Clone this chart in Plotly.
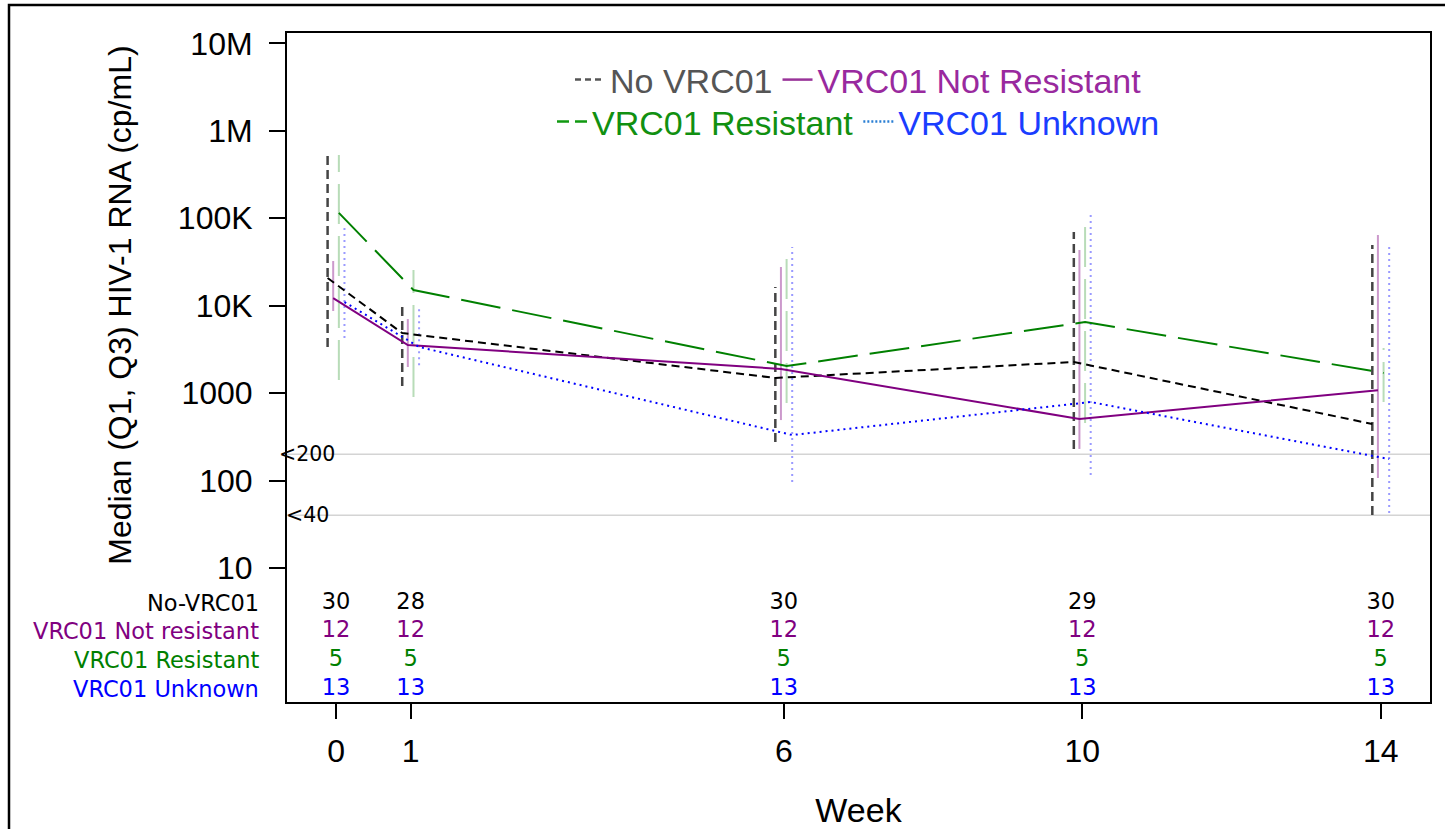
import math
import plotly.graph_objects as go

# ---------------- data ----------------
weeks = [0, 1, 6, 10, 14]

group_names = ["No VRC01", "VRC01 Not Resistant", "VRC01 Resistant", "VRC01 Unknown"]

med_no_vrc01 = [20700, 4860, 1490, 2270, 444]
q1_no_vrc01 = [3370, 1205, 276, 230, 40.4]
q3_no_vrc01 = [528000, 10200, 16300, 69500, 49400]

med_not_res = [12200, 3550, 1890, 506, 1080]
q1_not_res = [8690, 1990, 492, 230, 107]
q3_not_res = [32400, 7030, 27700, 43300, 64300]

med_res = [115000, 15100, 2040, 6500, 1700]
q1_res = [1410, 902, 771, 455, 791]
q3_res = [528000, 25600, 40000, 90000, 3280]

med_unknown = [11000, 3370, 332, 791, 176]
q1_unknown = [4270, 2090, 96, 116, 42.6]
q3_unknown = [85000, 9660, 46900, 121000, 49400]

n_no_vrc01 = [30, 28, 30, 29, 30]
n_not_res = [12, 12, 12, 12, 12]
n_res = [5, 5, 5, 5, 5]
n_unknown = [13, 13, 13, 13, 13]

row_labels = ["No-VRC01", "VRC01 Not resistant", "VRC01 Resistant", "VRC01 Unknown"]

ytick_vals = [10, 100, 1000, 10000, 100000, 1000000, 10000000]
ytick_text = ["10", "100", "1000", "10K", "100K", "1M", "10M"]

ref_vals = [200, 40]
ref_labels = ["<200", "<40"]

y_title = "Median (Q1, Q3) HIV-1 RNA (cp/mL)"
x_title = "Week"

# ---------------- layout constants / styles ----------------
W, H = 1445, 829
ML, MR, MT, MB = 287, 15, 33, 127
PW, PH = W - ML - MR, H - MT - MB
X_RANGE = [-0.657, 14.66]
Y_RANGE = [-0.532, 7.118]  # log10 units

offsets = [-0.113, -0.038, 0.038, 0.113]

med_style = [
    dict(color="#000000", width=2, dash="8px,5px"),
    dict(color="#800080", width=2, dash="solid"),
    dict(color="#008000", width=2, dash="40px,12px"),
    dict(color="#0000ff", width=2, dash="2px,4px"),
]
bar_style = [
    dict(color="#444444", width=2.5, dash="9px,5px"),
    dict(color="#cc99cc", width=2, dash="solid"),
    dict(color="#b8dcb8", width=2, dash="40px,12px"),
    dict(color="#9a9aff", width=2, dash="2px,4px"),
]
legend_line = [
    dict(color="#555555", width=2.5, dash="6px,4px"),
    dict(color="#993399", width=2.5, dash="solid"),
    dict(color="#119911", width=2.5, dash="12px,6px"),
    dict(color="#2a7fd4", width=2.5, dash="2px,2px"),
]
legend_text_color = ["#555555", "#99299e", "#119011", "#1a3dff"]
table_color = ["#000000", "#800080", "#008000", "#0000ff"]

SANS = "Liberation Sans, Arial, sans-serif"
DEJAVU = "DejaVu Sans, sans-serif"
TABLE_SIZE = 22.5

meds = [med_no_vrc01, med_not_res, med_res, med_unknown]
q1s = [q1_no_vrc01, q1_not_res, q1_res, q1_unknown]
q3s = [q3_no_vrc01, q3_not_res, q3_res, q3_unknown]
counts = [n_no_vrc01, n_not_res, n_res, n_unknown]

fig = go.Figure()

# reference lines (<200, <40)
for v in ref_vals:
    fig.add_trace(go.Scatter(
        x=X_RANGE, y=[v, v], mode="lines",
        line=dict(color="#d4d4d4", width=1.5),
        showlegend=False, hoverinfo="skip"))

# Q1-Q3 bars
for g in range(4):
    xs, ys = [], []
    for w, lo, hi in zip(weeks, q1s[g], q3s[g]):
        xs += [w + offsets[g], w + offsets[g], None]
        ys += [lo, hi, None]
    fig.add_trace(go.Scatter(
        x=xs, y=ys, mode="lines", line=bar_style[g],
        showlegend=False, hoverinfo="skip"))

# median lines
for g in range(4):
    fig.add_trace(go.Scatter(
        x=[w + offsets[g] for w in weeks], y=meds[g], mode="lines",
        line=med_style[g], name=group_names[g], showlegend=False))

# legend entries
for g in range(4):
    fig.add_trace(go.Scatter(
        x=[None], y=[None], mode="lines", line=legend_line[g],
        name="<span style='color:%s'>%s</span>" % (legend_text_color[g], group_names[g]),
        legend="legend" if g < 2 else "legend2", showlegend=True))

# counts table (rows inside plot area, below the 10 tick)
row_px = [603, 631, 660, 689]
row_log = [1 - (p - 568) / 87.45 for p in row_px]
for g in range(4):
    fig.add_trace(go.Scatter(
        x=weeks, y=[10 ** row_log[g]] * len(weeks), mode="text",
        text=[str(n) for n in counts[g]],
        textfont=dict(family=DEJAVU, size=TABLE_SIZE, color=table_color[g]),
        textposition="middle center", cliponaxis=False,
        showlegend=False, hoverinfo="skip"))

annotations = []
for g in range(4):
    annotations.append(dict(
        x=(261 - ML) / PW, y=row_log[g], xref="paper", yref="y", text=row_labels[g],
        showarrow=False, xanchor="right", yanchor="middle",
        font=dict(family=DEJAVU, size=TABLE_SIZE, color=table_color[g])))
for v, lab in zip(ref_vals, ref_labels):
    annotations.append(dict(
        x=-0.389, y=math.log10(v), xref="x", yref="y", text=lab,
        showarrow=False, xanchor="center", yanchor="middle",
        font=dict(family=DEJAVU, size=20.5, color="#000000")))
# y-axis title, centred on the labelled decades (10 .. 10M)
annotations.append(dict(
    x=(120 - ML) / PW, y=(math.log10(ytick_vals[0]) + math.log10(ytick_vals[-1])) / 2,
    xref="paper", yref="y", text=y_title, textangle=-90,
    showarrow=False, xanchor="center", yanchor="middle",
    font=dict(family=SANS, size=32, color="#000000")))

shapes = [dict(
    type="rect", xref="paper", yref="paper",
    x0=(9 - ML) / PW, x1=(1460 - ML) / PW,
    y0=-(845 - (MT + PH)) / PH, y1=1 + (MT - 5) / PH,
    line=dict(color="#000000", width=2.5), fillcolor="rgba(0,0,0,0)", layer="above")]

fig.update_layout(
    width=W, height=H,
    margin=dict(l=ML, r=MR, t=MT, b=MB, pad=0),
    paper_bgcolor="white", plot_bgcolor="white",
    font=dict(family=SANS, color="#000000"),
    annotations=annotations, shapes=shapes,
    legend=dict(orientation="h", x=0.5, xanchor="center",
                y=1 - (80 - MT) / PH, yanchor="middle",
                bgcolor="rgba(0,0,0,0)", font=dict(family=SANS, size=34),
                itemclick=False, itemdoubleclick=False),
    legend2=dict(orientation="h", x=0.5, xanchor="center",
                 y=1 - (122 - MT) / PH, yanchor="middle",
                 bgcolor="rgba(0,0,0,0)", font=dict(family=SANS, size=34),
                 itemclick=False, itemdoubleclick=False),
)

fig.update_xaxes(
    range=X_RANGE, tickvals=weeks, ticktext=[str(w) for w in weeks],
    showgrid=False, zeroline=False,
    showline=True, mirror=True, linecolor="#000000", linewidth=2,
    ticks="outside", ticklen=15, tickwidth=2, tickcolor="#000000",
    tickfont=dict(family=SANS, size=32, color="#000000"),
    ticklabelstandoff=5,
    title=dict(text=x_title, font=dict(family=SANS, size=34, color="#000000"), standoff=38),
    automargin=False)

fig.update_yaxes(
    type="log", range=Y_RANGE, tickvals=ytick_vals, ticktext=ytick_text,
    showgrid=False, zeroline=False,
    showline=True, mirror=True, linecolor="#000000", linewidth=2,
    ticks="outside", ticklen=16, tickwidth=2, tickcolor="#000000",
    tickfont=dict(family=SANS, size=32, color="#000000"),
    ticklabelstandoff=10,
    automargin=False)

fig.write_html("out.html")
